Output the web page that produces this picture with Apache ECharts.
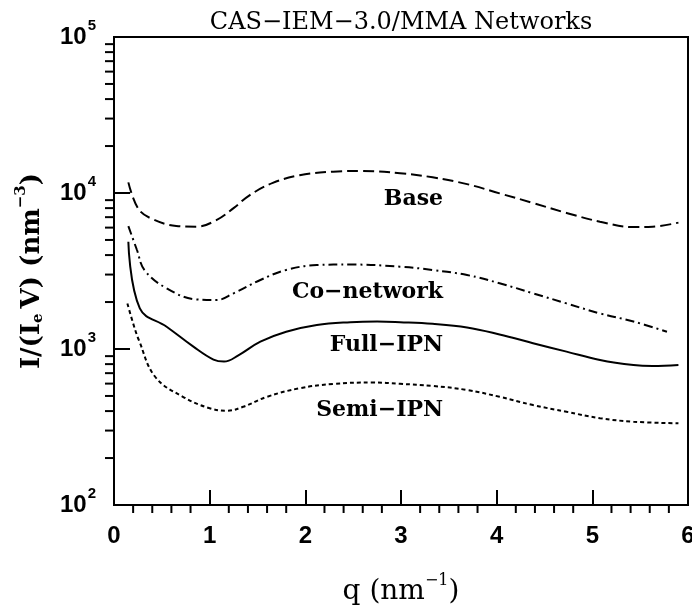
<!DOCTYPE html>
<html>
<head>
    <meta charset="utf-8">
    <title>CAS-IEM-3.0/MMA Networks</title>
    <style type="text/css">
        * {
            margin: 0;
            padding: 0;
        }

        html,
        body {
            width: 100%;
            height: 100%;
            background: #fff;
        }
    </style>
</head>

<body>
    <div id="main" style="width: 692px;height: 605px;"></div>
    <script type="text/javascript" src="https://cdn.jsdelivr.net/npm/echarts@6/dist/echarts.min.js"></script>
    <script type="text/javascript">
        // 数据：q (nm^-1), I/(Ie V) (nm^-3)
        const baseData = [
            [0.15, 11700], [0.25, 8000], [0.38, 6900], [0.65, 6150], [0.86, 6080],
            [1.07, 6700], [1.25, 8000], [1.42, 9700], [1.66, 11600], [1.94, 13000],
            [2.29, 13700], [2.6, 13850], [2.99, 13400], [3.33, 12600], [3.69, 11400],
            [4.03, 9950], [4.38, 8630], [4.73, 7450], [5.08, 6550], [5.43, 6050],
            [5.63, 6080], [5.9, 6460]
        ];
        const coNetworkData = [
            [0.15, 6140], [0.24, 4310], [0.32, 3200], [0.55, 2450], [0.86, 2080],
            [1.07, 2060], [1.25, 2275], [1.53, 2770], [1.8, 3210], [2.12, 3450],
            [2.47, 3480], [2.99, 3370], [3.33, 3210], [3.69, 2980], [4.03, 2640],
            [4.38, 2275], [4.73, 1960], [5.08, 1690], [5.43, 1500], [5.78, 1290]
        ];
        const fullIpnData = [
            [0.15, 4870], [0.27, 1820], [0.55, 1390], [0.83, 1035], [1.04, 855],
            [1.15, 830], [1.3, 910], [1.53, 1114], [1.8, 1290], [2.12, 1425],
            [2.47, 1485], [2.75, 1500], [2.99, 1485], [3.33, 1450], [3.69, 1375],
            [4.03, 1240], [4.38, 1090], [4.73, 962], [5.08, 850], [5.43, 789],
            [5.63, 778], [5.9, 789]
        ];
        const semiIpnData = [
            [0.14, 1960], [0.2, 1460], [0.26, 1140], [0.43, 664], [0.72, 494],
            [1.0, 417], [1.18, 402], [1.35, 426], [1.6, 494], [1.94, 560],
            [2.29, 597], [2.7, 610], [2.99, 598], [3.33, 580], [3.69, 546],
            [4.03, 494], [4.38, 437], [4.73, 396], [5.08, 360], [5.43, 342],
            [5.9, 334]
        ];
        // 曲线文字标注 (右对齐锚点)
        const curveLabels = [
            [3.44, 9160, 'Base'],
            [3.44, 2320, 'Co\u2212network'],
            [3.44, 1060, 'Full\u2212IPN'],
            [3.44, 406, 'Semi\u2212IPN']
        ];
        // 刻度
        const xMinorTicks = [
            0.2, 0.4, 0.6, 0.8, 1.2, 1.4, 1.6, 1.8, 2.2, 2.4, 2.6, 2.8,
            3.2, 3.4, 3.6, 3.8, 4.2, 4.4, 4.6, 4.8, 5.2, 5.4, 5.6, 5.8
        ];
        const yMinorTicks = [
            200, 300, 400, 500, 600, 700, 800, 900,
            2000, 3000, 4000, 5000, 6000, 7000, 8000, 9000,
            20000, 30000, 40000, 50000, 60000, 70000, 80000, 90000
        ];

        const SERIF = '"DejaVu Serif", serif';
        const SANS = '"Liberation Sans", Arial, sans-serif';

        const lineSeries = (name, data, type) => ({
            name: name,
            type: 'line',
            data: data,
            showSymbol: false,
            smooth: 0.4,
            lineStyle: { color: '#000', width: 2, type: type },
            z: 3
        });

        const chart = echarts.init(document.getElementById('main'));
        chart.setOption({
            animation: false,
            backgroundColor: '#fff',
            title: {
                text: 'CAS\u2212IEM\u22123.0/MMA Networks',
                left: 401,
                top: 11,
                textAlign: 'center',
                padding: 0,
                textStyle: { fontFamily: SERIF, fontSize: 24, fontWeight: 'normal', color: '#000' }
            },
            grid: {
                left: 114, right: 4, top: 37, bottom: 100,
                show: true, borderColor: '#000', borderWidth: 2,
                outerBoundsMode: 'none'
            },
            xAxis: {
                type: 'value', min: 0, max: 6, interval: 1,
                axisLine: { lineStyle: { color: '#000', width: 2 } },
                axisTick: { inside: true, length: 15, lineStyle: { color: '#000', width: 2 } },
                axisLabel: { margin: 19, fontFamily: SANS, fontSize: 24, fontWeight: 'bold', color: '#000' },
                splitLine: { show: false },
                name: 'q (nm{s|\u22121})',
                nameLocation: 'middle',
                nameGap: 68,
                nameTextStyle: {
                    fontFamily: SERIF, fontSize: 28, color: '#000',
                    rich: { s: { fontFamily: SERIF, fontSize: 16, color: '#000', padding: [0, 0, 22, 0], verticalAlign: 'middle' } }
                }
            },
            yAxis: {
                type: 'log', logBase: 10, min: 100, max: 100000,
                axisLine: { lineStyle: { color: '#000', width: 2 } },
                axisTick: { inside: true, length: 16, lineStyle: { color: '#000', width: 2 } },
                axisLabel: {
                    margin: 18,
                    formatter: v => '{b|10}{s|' + Math.round(Math.log10(v)) + '}',
                    rich: {
                        b: { fontFamily: SANS, fontSize: 24, fontWeight: 'bold', color: '#000', verticalAlign: 'middle' },
                        s: { fontFamily: SANS, fontSize: 15, fontWeight: 'bold', color: '#000', padding: [0, 0, 22, 1], verticalAlign: 'middle' }
                    }
                },
                splitLine: { show: false },
                name: 'I/(I{sub|e}V) (nm{s|\u22123})',
                nameLocation: 'middle',
                nameRotate: 90,
                nameGap: 63,
                nameTextStyle: {
                    fontFamily: SERIF, fontSize: 26, fontWeight: 'bold', color: '#000',
                    rich: {
                        sub: { fontFamily: SERIF, fontSize: 15, fontWeight: 'bold', color: '#000', padding: [12, 5, 0, 0], verticalAlign: 'middle' },
                        s: { fontFamily: SERIF, fontSize: 15, fontWeight: 'bold', color: '#000', padding: [0, 0, 22, 0], verticalAlign: 'middle' }
                    }
                }
            },
            series: [
                lineSeries('Base', baseData, [11, 5]),
                lineSeries('Co-network', coNetworkData, [9, 4, 2, 4]),
                lineSeries('Full-IPN', fullIpnData, 'solid'),
                lineSeries('Semi-IPN', semiIpnData, [4, 3]),
                {
                    // 曲线名称
                    type: 'custom',
                    data: curveLabels,
                    silent: true,
                    renderItem: (params, api) => {
                        const p = api.coord([api.value(0), api.value(1)]);
                        return {
                            type: 'text',
                            x: p[0], y: p[1],
                            style: {
                                text: curveLabels[params.dataIndex][2],
                                align: 'right', verticalAlign: 'middle',
                                font: 'bold 22px ' + SERIF,
                                fill: '#000'
                            }
                        };
                    }
                },
                {
                    // x 次刻度 (向外)
                    type: 'custom',
                    data: xMinorTicks.map(q => [q, 100]),
                    silent: true,
                    renderItem: (params, api) => {
                        const p = api.coord([api.value(0), api.value(1)]);
                        return {
                            type: 'line',
                            shape: { x1: p[0], y1: p[1], x2: p[0], y2: p[1] + 8 },
                            style: { stroke: '#000', lineWidth: 2 }
                        };
                    }
                },
                {
                    // y 次刻度 (向外)
                    type: 'custom',
                    data: yMinorTicks.map(v => [0, v]),
                    silent: true,
                    renderItem: (params, api) => {
                        const p = api.coord([api.value(0), api.value(1)]);
                        return {
                            type: 'line',
                            shape: { x1: p[0], y1: p[1], x2: p[0] - 9, y2: p[1] },
                            style: { stroke: '#000', lineWidth: 2 }
                        };
                    }
                }
            ]
        });
    </script>
</body>

</html>
